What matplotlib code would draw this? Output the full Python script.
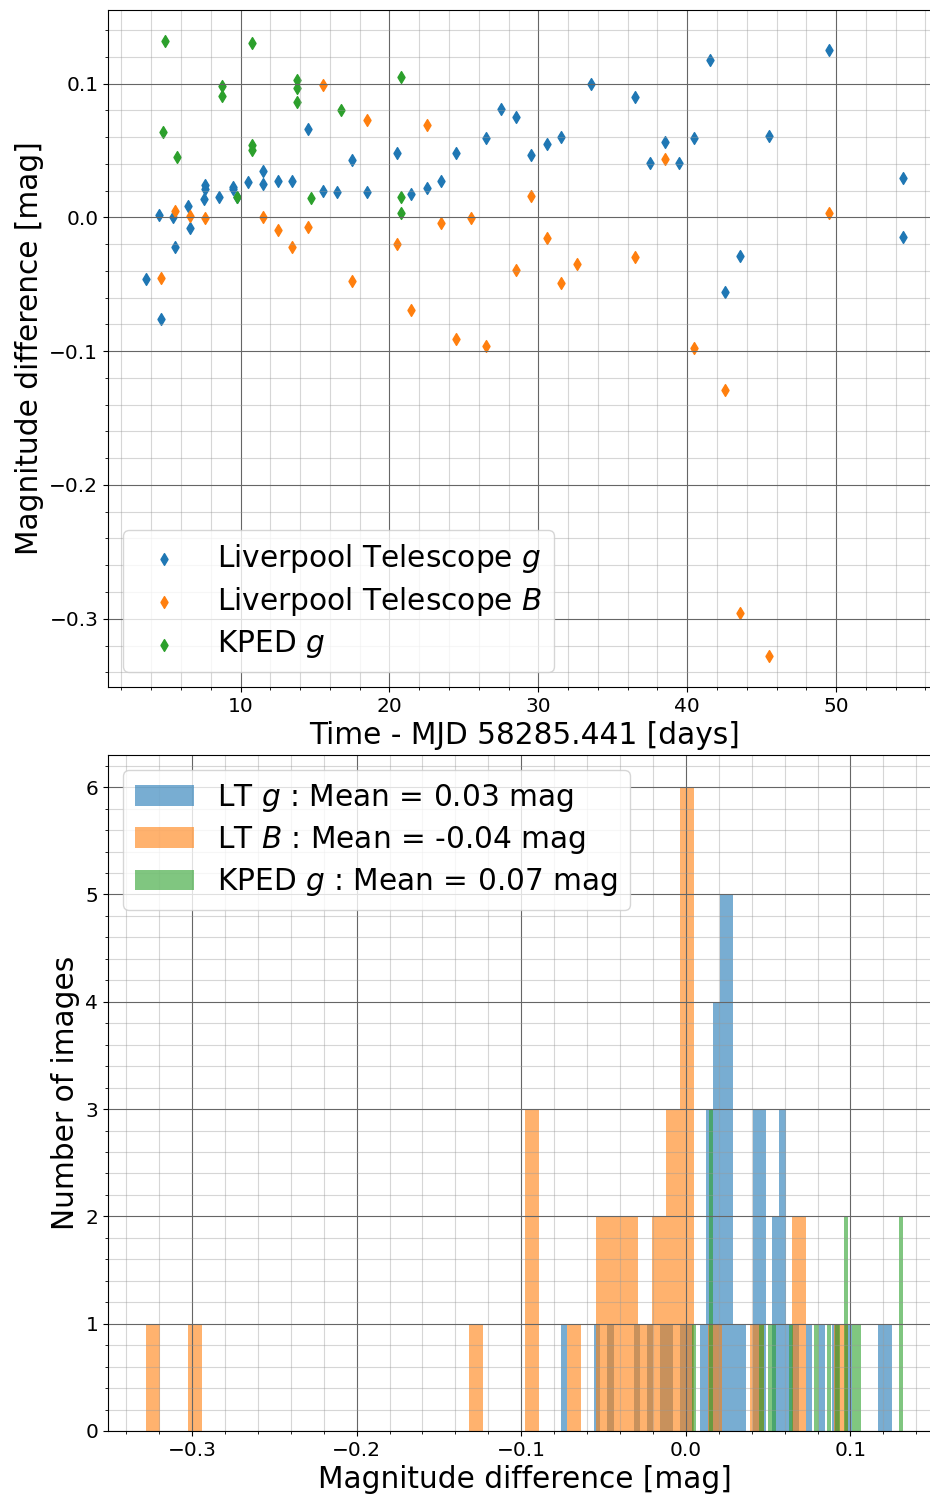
import numpy as np
import matplotlib
matplotlib.use("Agg")
import matplotlib.pyplot as plt
from matplotlib.ticker import AutoMinorLocator

# Liverpool Telescope g-band: time [days since MJD 58285.441] and magnitude difference [mag]
lt_g_time = [3.64, 4.49, 4.69, 5.48, 5.62, 6.49, 6.63, 7.52, 7.60, 7.60, 8.54,
             9.50, 9.50, 9.73, 10.49, 11.48, 11.48, 12.49, 13.48, 14.50, 15.51, 16.50,
             17.48, 18.47, 20.50, 21.48, 22.52, 23.49, 24.50, 26.50, 27.51, 28.50,
             29.53, 30.55, 31.51, 33.51, 36.52, 37.47, 38.48, 39.47, 40.48, 41.51,
             42.52, 43.51, 45.51, 49.49, 54.50, 54.50]
lt_g_mag = [-0.046, 0.0015, -0.076, 0.0, -0.022, 0.0085, -0.008, 0.0135, 0.024, 0.021, 0.0155,
            0.023, 0.021, 0.0152, 0.0264, 0.035, 0.025, 0.027, 0.027, 0.066, 0.020, 0.019,
            0.043, 0.019, 0.048, 0.0172, 0.022, 0.0275, 0.048, 0.059, 0.081, 0.0754,
            0.0464, 0.055, 0.060, 0.0996, 0.090, 0.041, 0.056, 0.041, 0.059, 0.118,
            -0.0556, -0.029, 0.061, 0.125, 0.0297, -0.0145]

# Liverpool Telescope B-band
lt_b_time = [4.69, 5.62, 6.63, 7.64, 11.50, 12.49, 13.48, 14.50, 15.51, 17.48,
             18.50, 20.50, 21.48, 22.52, 23.49, 24.50, 25.51, 26.50, 28.50, 29.53,
             30.55, 31.51, 32.57, 36.52, 38.48, 40.48, 42.55, 43.55, 45.51, 49.49]
lt_b_mag = [-0.045, 0.0045, 0.001, -0.0007, 0.0002, -0.0097, -0.022, -0.0072, 0.0988, -0.0477,
            0.0726, -0.0197, -0.069, 0.069, -0.0045, -0.091, -0.0005, -0.0963, -0.039, 0.016,
            -0.0152, -0.049, -0.0347, -0.0297, 0.0439, -0.0975, -0.1287, -0.296, -0.328, 0.0035]

# KPED g-band
kped_g_time = [4.92, 4.81, 5.75, 8.74, 8.74, 9.73, 10.74, 10.74, 10.74, 13.76,
               13.76, 13.76, 14.72, 16.74, 20.77, 20.77, 20.77]
kped_g_mag = [0.132, 0.064, 0.045, 0.098, 0.091, 0.0155, 0.130, 0.054, 0.050, 0.103,
              0.097, 0.086, 0.0147, 0.080, 0.105, 0.0155, 0.0035]

series_names = ["Liverpool Telescope $g$", "Liverpool Telescope $B$", "KPED $g$"]
hist_prefix = ["LT $g$", "LT $B$", "KPED $g$"]

W, H = 930, 1494
fig = plt.figure(figsize=(W / 100, H / 100), dpi=100)


def add_axes_px(left, top, right, bottom):
    return fig.add_axes([left / W, 1 - bottom / H, (right - left) / W, (bottom - top) / H])


def style_grid(ax):
    ax.xaxis.set_minor_locator(AutoMinorLocator())
    ax.yaxis.set_minor_locator(AutoMinorLocator())
    ax.grid(which="major", color="#666666", linestyle="-")
    ax.grid(which="minor", color="#999999", linestyle="-", alpha=0.4)
    ax.tick_params(labelsize=14.5)


LABEL_FS = 21.3
LEGEND_FS = 21.3

# Light curve of magnitude differences
ax1 = add_axes_px(108, 10, 941, 687)
times = [lt_g_time, lt_b_time, kped_g_time]
mags = [lt_g_mag, lt_b_mag, kped_g_mag]
for t, m, name in zip(times, mags, series_names):
    ax1.scatter(t, m, marker="d", label=name)
style_grid(ax1)
ax1.set_xlabel("Time - MJD 58285.441 [days]", fontsize=LABEL_FS)
ax1.set_ylabel("Magnitude difference [mag]", fontsize=LABEL_FS)
ax1.legend(loc="lower left", fontsize=LEGEND_FS, labelspacing=0.35)

# Histogram of magnitude differences
ax2 = add_axes_px(108, 755, 941, 1431)
for m, pre in zip(mags, hist_prefix):
    ax2.hist(m, bins=50, alpha=0.6, label=f"{pre} : Mean = {np.mean(m):.2f} mag")
style_grid(ax2)
ax2.set_xlabel("Magnitude difference [mag]", fontsize=LABEL_FS)
ax2.set_ylabel("Number of images", fontsize=LABEL_FS)
ax2.legend(loc="upper left", fontsize=LEGEND_FS, labelspacing=0.35)

fig.savefig("out.png", dpi=100)
